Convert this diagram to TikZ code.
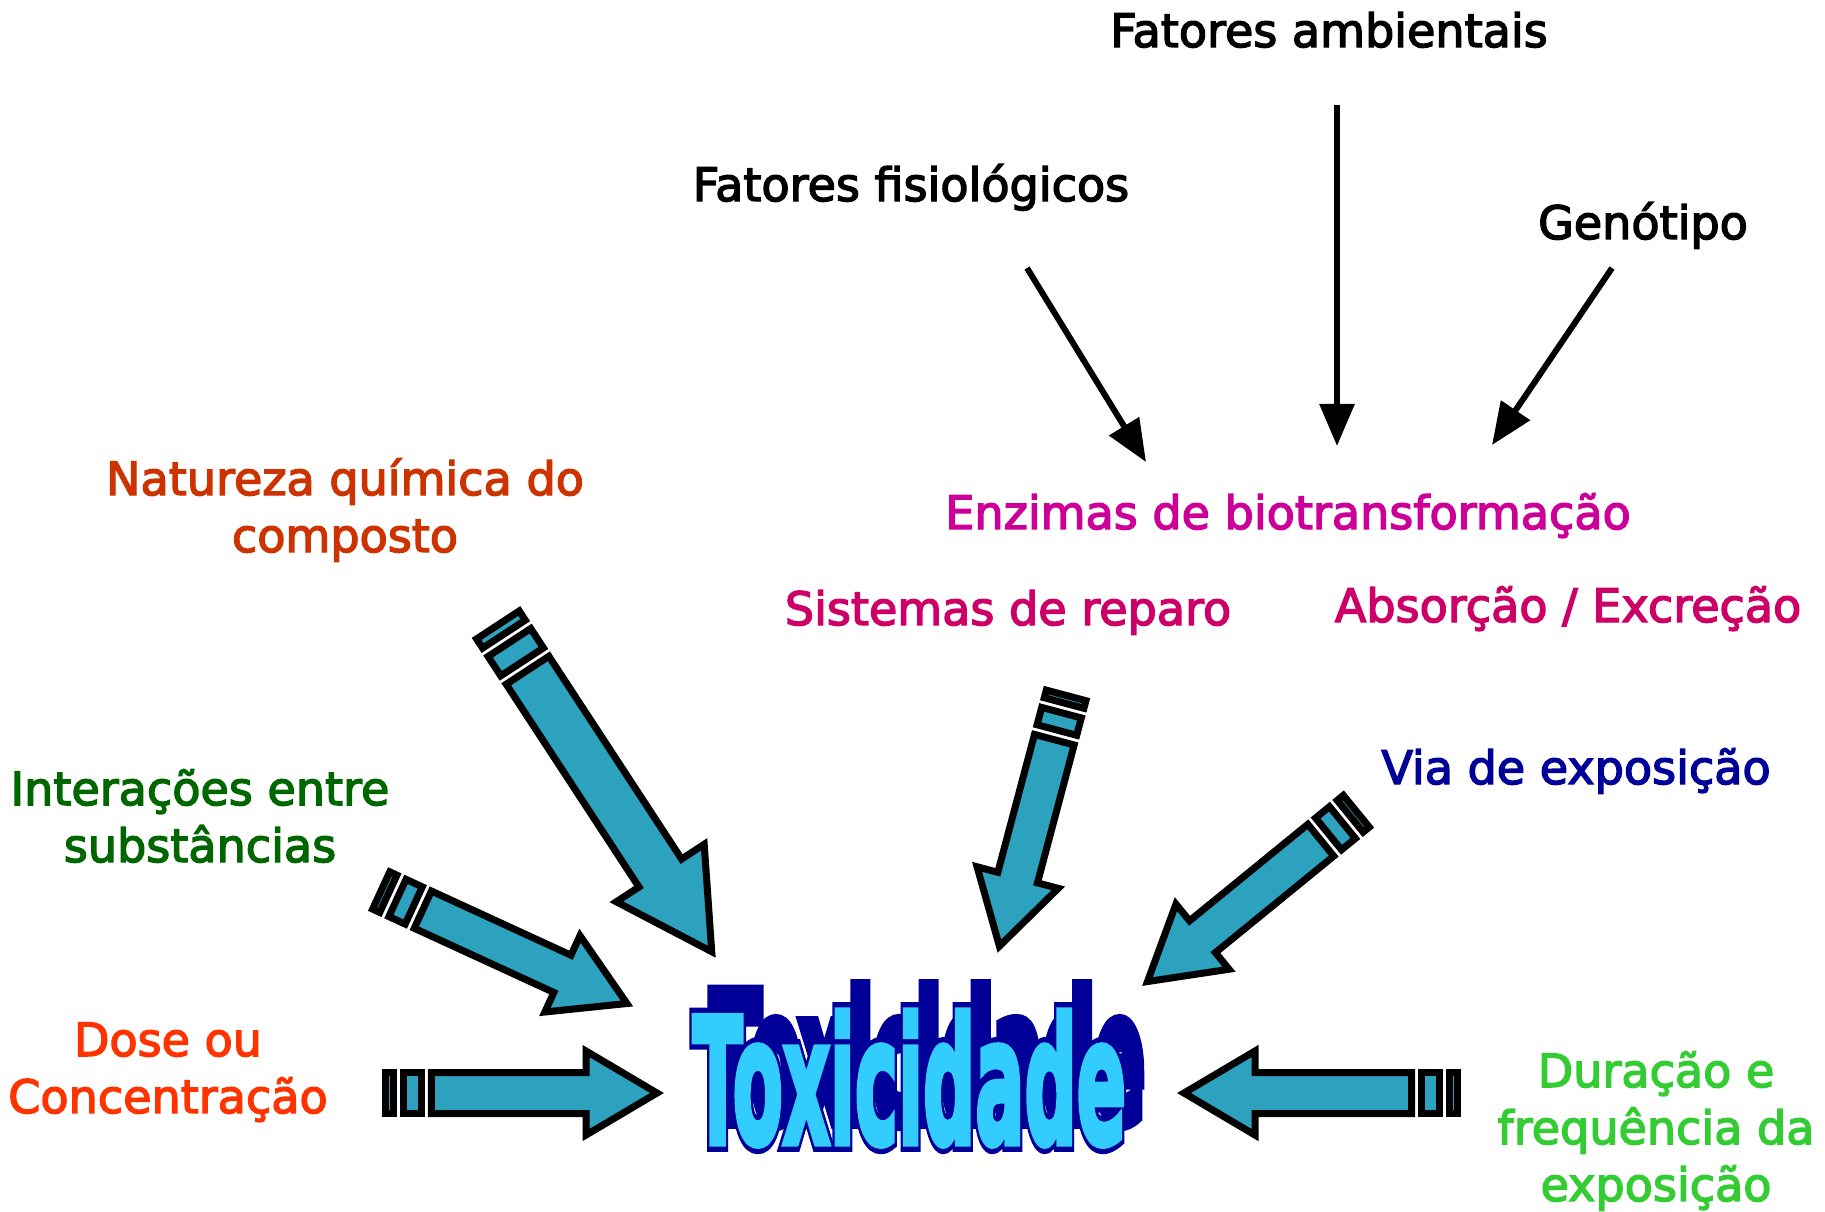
\documentclass[tikz,border=0pt]{standalone}
\usepackage{fontspec}
\setmainfont{DejaVu Sans}
\newfontfamily\lblfont{DejaVu Sans}[FakeBold=3]
\newfontfamily\toxdarkfont{DejaVu Sans Bold}[FakeBold=10]
\newfontfamily\toxlightfont{DejaVu Sans Bold}[FakeBold=4]
\usepackage{graphicx}
\usetikzlibrary{arrows.meta,calc}

\definecolor{barrow}{HTML}{2CA2BF}
\definecolor{natc}{HTML}{CC3300}
\definecolor{enzc}{HTML}{CC0099}
\definecolor{sisc}{HTML}{CC0066}
\definecolor{intc}{HTML}{006600}
\definecolor{viac}{HTML}{000099}
\definecolor{dosec}{HTML}{FF3300}
\definecolor{durc}{HTML}{33CC33}
\definecolor{toxlight}{HTML}{33CCFF}
\definecolor{toxdark}{HTML}{000099}

% striped block arrow: #1 tail centre (x,y), #2 angle, #3 length, #4 body width, #5 head width, #6 head length
\newcommand{\blockarrow}[6]{%
  \begin{scope}[shift={(#1)},rotate=#2]
    \pgfmathsetmacro{\baH}{#4/2-3.5}
    \pgfmathsetmacro{\baHH}{#5/2-4}
    \pgfmathsetmacro{\baOne}{0.31*#4}
    \pgfmathsetmacro{\baTwo}{0.52*#4}
    \pgfmathsetmacro{\baPAb}{\baOne-3.5}
    \pgfmathsetmacro{\baPBa}{\baOne+3+3.5}
    \pgfmathsetmacro{\baPBb}{\baOne+3+\baTwo-3.5}
    \pgfmathsetmacro{\baPC}{\baOne+\baTwo+6+3.5}
    \pgfmathsetmacro{\baXb}{#3-#6}
    \pgfmathsetmacro{\baXt}{#3-6}
    \draw[bstyle] (3.5,-\baH) rectangle (\baPAb,\baH);
    \draw[bstyle] (\baPBa,-\baH) rectangle (\baPBb,\baH);
    \draw[bstyle] (\baPC,-\baH) -- (\baXb,-\baH) -- (\baXb,-\baHH) -- (\baXt,0)
       -- (\baXb,\baHH) -- (\baXb,\baH) -- (\baPC,\baH) -- cycle;
  \end{scope}}

\newcommand{\toxword}[1]{\resizebox{4.33cm}{1.32cm}{#1Toxicidade}}

\begin{document}
\begin{tikzpicture}[x=0.01cm,y=-0.01cm,
  lbl/.style={font=\lblfont\fontsize{13.1}{16.2}\selectfont, inner sep=0pt, anchor=base, align=center},
  thinarrow/.style={line width=0.06cm, -{Triangle[length=0.42cm,width=0.34cm]}},
  bstyle/.style={fill=barrow, draw=black, line width=0.07cm, line join=miter},
  toxnode/.style={inner sep=0pt, anchor=base west}]

\useasboundingbox (0,0) rectangle (1825,1211);

% ---- block arrows ----
\blockarrow{496,622}{-56.8}{400}{58}{113}{100}
\blockarrow{378,889}{-24.7}{280}{48}{92}{77}
\blockarrow{382,1093}{0}{281}{48}{92}{77}
\blockarrow{1067,692}{-104.9}{269}{48}{92}{77}
\blockarrow{1359,809}{-140.8}{279}{48}{92}{77}
\blockarrow{1461,1093}{180}{283}{48}{92}{77}

% ---- thin black arrows ----
\coordinate (fisA) at (1027,268); \coordinate (fisB) at (1146,462);
\coordinate (ambA) at (1337,105); \coordinate (ambB) at (1337,446);
\coordinate (genA) at (1612,268); \coordinate (genB) at (1492,445);
\draw[thinarrow] (fisA) -- (fisB);
\draw[thinarrow] (ambA) -- (ambB);
\draw[thinarrow] (genA) -- (genB);

% ---- labels (multi-line nodes: base = last line) ----
\node[lbl] (amb) at (1329,47) {Fatores ambientais};
\node[lbl] (fis) at (911,201) {Fatores fisiológicos};
\node[lbl] (gen) at (1643,239) {Genótipo};
\node[lbl,text=enzc] (enz) at (1288,529) {Enzimas de biotransformação};
\node[lbl,text=natc] (nat) at (345,552) {Natureza química do\\composto};
\node[lbl,text=sisc] (sis) at (1008,625) {Sistemas de reparo};
\node[lbl,text=sisc] (abs) at (1568,622) {Absorção / Excreção};
\node[lbl,text=intc] (int) at (200,862) {Interações entre\\substâncias};
\node[lbl,text=viac] (via) at (1576,784) {Via de exposição};
\node[lbl,text=dosec] (dose) at (168,1113) {Dose ou\\Concentração};
\node[lbl,text=durc] (dur) at (1656,1201) {Duração e\\frequência da\\exposição};

% ---- Toxicidade word art ----
\coordinate (toxpos) at (692,1143);
\coordinate (toxsh) at (710,1120);
\node[toxnode,text=toxdark] (toxs) at (toxsh) {\toxword{\toxdarkfont}};
\node[toxnode,text=toxdark] (toxo) at (toxpos) {\toxword{\toxdarkfont}};
\node[toxnode,text=toxlight] (tox) at (toxpos) {\toxword{\toxlightfont}};
\end{tikzpicture}
\end{document}
